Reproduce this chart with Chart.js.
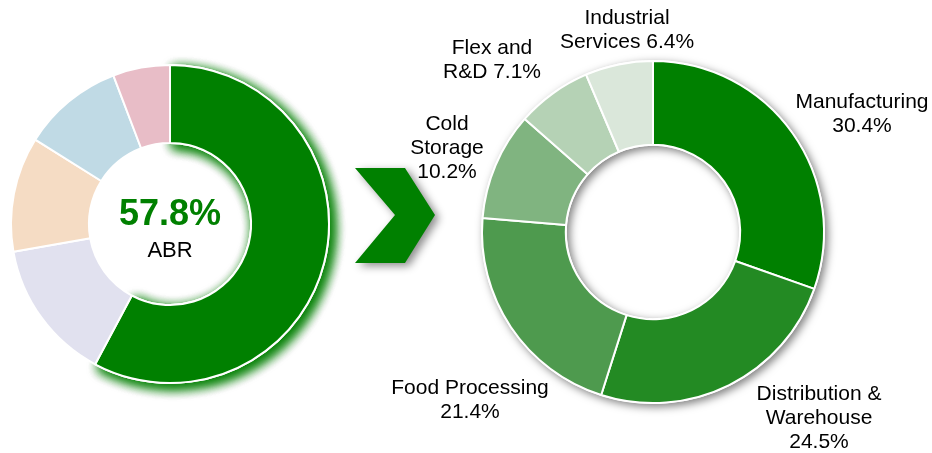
<!DOCTYPE html>
<html>
<head>
<meta charset="utf-8">
<script src="https://cdn.jsdelivr.net/npm/chart.js@4/dist/chart.umd.min.js"></script>
<style>
  html, body { margin: 0; padding: 0; background: #fff; }
  #wrap { position: relative; width: 932px; height: 453px; }
  #wrap canvas { position: absolute; left: 0; top: 0; }
</style>
</head>
<body>
<div id="wrap">
  <canvas id="abrChart" width="932" height="453"></canvas>
  <canvas id="sectorChart" width="932" height="453"></canvas>
</div>
<script>
// #ABR split (left ring)
var abrValues = [57.8, 14.4, 11.7, 10.3, 5.8];
var abrColors = ["#008000", "#e1e1ef", "#f5dcc4", "#c0dae5", "#e8bdc7"];
var abrHeadline = "57.8%";
var abrCaption = "ABR";

// #Sectors (right ring)
var sectorNames = ["Manufacturing", "Distribution & Warehouse", "Food Processing", "Cold Storage", "Flex and R&D", "Industrial Services"];
var sectorValues = [30.4, 24.5, 21.4, 10.2, 7.1, 6.4];
var sectorColors = ["#008000", "#238a23", "#4e9a4e", "#80b480", "#b5d2b5", "#dae7da"];

// how each label is broken into lines, and where the block sits relative to the ring centre
var sectorLines = [
  ["Manufacturing", "{v}"],
  ["Distribution &", "Warehouse", "{v}"],
  ["Food Processing", "{v}"],
  ["Cold", "Storage", "{v}"],
  ["Flex and", "R&D {v}"],
  ["Industrial", "Services {v}"]
];
var labelOffsets = [[209, -118], [166, 186], [-183, 168], [-206, -84], [-161, -172], [-26, -202]];

var FONT = "'Liberation Sans', Arial, sans-serif";

// soft green glow behind the big slice
var glowPlugin = {
  id: "glow",
  beforeDatasetsDraw: function(chart) {
    var ctx = chart.ctx;
    var arc = chart.getDatasetMeta(0).data[0];
    ctx.save();
    ctx.shadowColor = "rgba(0,128,0,0.95)";
    ctx.shadowBlur = 12;
    ctx.shadowOffsetX = 4;
    ctx.shadowOffsetY = 4;
    arc.draw(ctx);
    arc.draw(ctx);
    ctx.restore();
  },
  afterDraw: function(chart) {
    var ctx = chart.ctx;
    var arc = chart.getDatasetMeta(0).data[0];
    ctx.save();
    ctx.textAlign = "center";
    ctx.textBaseline = "middle";
    ctx.fillStyle = "#008000";
    ctx.font = "bold 36px " + FONT;
    ctx.fillText(abrHeadline, arc.x, arc.y - 9);
    ctx.fillStyle = "#000";
    ctx.font = "22px " + FONT;
    ctx.fillText(abrCaption, arc.x, arc.y + 27);

    // chevron between the rings
    ctx.shadowColor = "rgba(0,0,0,0.45)";
    ctx.shadowBlur = 8;
    ctx.shadowOffsetX = 4;
    ctx.shadowOffsetY = 3;
    ctx.fillStyle = "#008000";
    ctx.beginPath();
    ctx.moveTo(355, 168);
    ctx.lineTo(405, 168);
    ctx.lineTo(435, 215);
    ctx.lineTo(405, 263);
    ctx.lineTo(355, 263);
    ctx.lineTo(395, 215);
    ctx.closePath();
    ctx.fill();
    ctx.restore();
  }
};

// grey drop shadow under the right ring, then the outside labels
var ringPlugin = {
  id: "ring",
  beforeDatasetsDraw: function(chart) {
    var ctx = chart.ctx;
    var arc = chart.getDatasetMeta(0).data[0];
    ctx.save();
    ctx.shadowColor = "rgba(0,0,0,0.5)";
    ctx.shadowBlur = 9;
    ctx.shadowOffsetX = 3;
    ctx.shadowOffsetY = 3;
    ctx.fillStyle = "#fff";
    ctx.beginPath();
    ctx.arc(arc.x, arc.y, arc.outerRadius + 1, 0, Math.PI * 2);
    ctx.arc(arc.x, arc.y, arc.innerRadius - 1, 0, Math.PI * 2, true);
    ctx.fill();
    ctx.restore();
  },
  afterDraw: function(chart) {
    var ctx = chart.ctx;
    var arcs = chart.getDatasetMeta(0).data;
    ctx.save();
    ctx.textAlign = "center";
    ctx.textBaseline = "middle";
    ctx.fillStyle = "#000";
    ctx.font = "21px " + FONT;
    var lh = 24;
    sectorLines.forEach(function(lines, i) {
      var v = sectorValues[i].toFixed(1) + "%";
      var x = arcs[i].x + labelOffsets[i][0];
      var y0 = arcs[i].y + labelOffsets[i][1] - (lines.length - 1) * lh / 2;
      lines.forEach(function(t, k) {
        ctx.fillText(t.replace("{v}", v), x, y0 + k * lh);
      });
    });
    ctx.restore();
  }
};

new Chart("abrChart", {
  type: "doughnut",
  data: {
    labels: ["ABR", "b", "c", "d", "e"],
    datasets: [{
      data: abrValues,
      backgroundColor: abrColors,
      borderColor: "#fff",
      borderWidth: 2,
      hoverOffset: 0
    }]
  },
  options: {
    responsive: false,
    animation: false,
    events: [],
    cutout: "51%",
    layout: { padding: { left: 10, right: 602, top: 64, bottom: 69 } },
    plugins: { legend: { display: false }, tooltip: { enabled: false } }
  },
  plugins: [glowPlugin]
});

new Chart("sectorChart", {
  type: "doughnut",
  data: {
    labels: sectorNames,
    datasets: [{
      data: sectorValues,
      backgroundColor: sectorColors,
      borderColor: "#fff",
      borderWidth: 2,
      hoverOffset: 0
    }]
  },
  options: {
    responsive: false,
    animation: false,
    events: [],
    cutout: "51%",
    layout: { padding: { left: 481, right: 107, top: 60, bottom: 49 } },
    plugins: { legend: { display: false }, tooltip: { enabled: false } }
  },
  plugins: [ringPlugin]
});
</script>
</body>
</html>
